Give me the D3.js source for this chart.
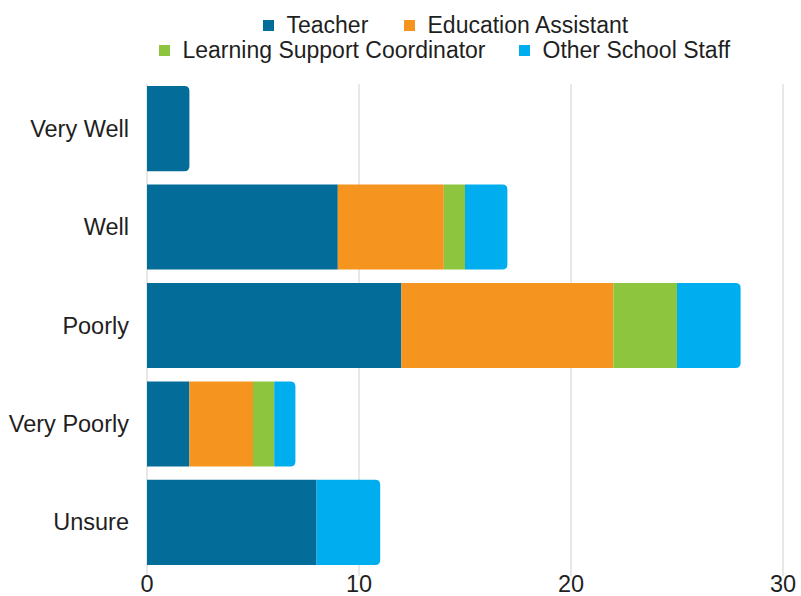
<!DOCTYPE html>
<html>
<head>
<meta charset="utf-8">
<script src="https://cdn.jsdelivr.net/npm/d3@7"></script>
<style>
  html, body { margin: 0; padding: 0; background: #fff; }
  svg { display: block; font-family: "Liberation Sans", Arial, sans-serif; }
</style>
</head>
<body>
<svg id="chart" width="801" height="596"></svg>
<script>
// Response categories (top to bottom)
const categories = ["Very Well", "Well", "Poorly", "Very Poorly", "Unsure"];
// Staff roles stacked left to right
const seriesNames = ["Teacher", "Education Assistant", "Learning Support Coordinator", "Other School Staff"];
const teacher = [2, 9, 12, 2, 8];
const educationAssistant = [0, 5, 10, 3, 0];
const learningSupport = [0, 1, 3, 1, 0];
const otherStaff = [0, 2, 3, 1, 3];
const xTicks = [0, 10, 20, 30];
const colors = ["#036c98", "#f5941f", "#8dc53f", "#00aeef"];

const seriesValues = [teacher, educationAssistant, learningSupport, otherStaff];
const rows = categories.map((c, i) => {
  const r = { category: c };
  seriesNames.forEach((s, j) => { r[s] = seriesValues[j][i]; });
  return r;
});

const svg = d3.select("#chart");
const labelSize = 23.5;
const legendSize = 23;
const textColor = "#1f1f1f";

const x = d3.scaleLinear().domain([0, 30]).range([147, 783]);
const y = d3.scaleBand().domain(categories).range([84, 567]).paddingInner(0.135).paddingOuter(0.02);

// vertical gridlines
svg.append("g").selectAll("line").data(xTicks).join("line")
  .attr("x1", d => x(d)).attr("x2", d => x(d))
  .attr("y1", 84).attr("y2", 576)
  .attr("stroke", "#d9d9d9").attr("stroke-width", 1.2);

const stacked = d3.stack().keys(seriesNames)(rows);

// index of last non-zero segment per row, for rounded ends
const lastIdx = rows.map(r => {
  let k = -1;
  seriesNames.forEach((s, j) => { if (r[s] > 0) k = j; });
  return k;
});

function segPath(x0, x1, y0, h, rounded) {
  const r = Math.min(5, (x1 - x0));
  if (!rounded) return `M${x0},${y0}H${x1}V${y0 + h}H${x0}Z`;
  return `M${x0},${y0}H${x1 - r}Q${x1},${y0} ${x1},${y0 + r}V${y0 + h - r}Q${x1},${y0 + h} ${x1 - r},${y0 + h}H${x0}Z`;
}

stacked.forEach((layer, j) => {
  svg.append("g").attr("fill", colors[j]).selectAll("path")
    .data(layer.map((d, i) => ({ d, i })).filter(o => o.d[1] > o.d[0]))
    .join("path")
    .attr("d", o => segPath(x(o.d[0]), x(o.d[1]), y(o.d.data.category), y.bandwidth(), lastIdx[o.i] === j));
});

// category labels
svg.append("g").selectAll("text").data(categories).join("text")
  .attr("x", 129).attr("y", d => y(d) + y.bandwidth() / 2 + 8)
  .attr("text-anchor", "end")
  .attr("font-size", labelSize).attr("fill", textColor)
  .text(d => d);

// x-axis tick labels
svg.append("g").selectAll("text").data(xTicks).join("text")
  .attr("x", d => x(d)).attr("y", 592)
  .attr("text-anchor", "middle")
  .attr("font-size", labelSize).attr("fill", textColor)
  .text(d => d);

// legend: two rows
const legendPos = [
  { x: 263, y: 33 }, { x: 404, y: 33 },
  { x: 159, y: 58 }, { x: 519, y: 58 }
];
const lg = svg.append("g").selectAll("g").data(seriesNames).join("g")
  .attr("transform", (d, i) => `translate(${legendPos[i].x},${legendPos[i].y})`);
lg.append("rect").attr("x", 0).attr("y", -13).attr("width", 11).attr("height", 11)
  .attr("fill", (d, i) => colors[i]);
lg.append("text").attr("x", 23.5)
  .attr("font-size", legendSize).attr("fill", textColor).text(d => d);
</script>
</body>
</html>
